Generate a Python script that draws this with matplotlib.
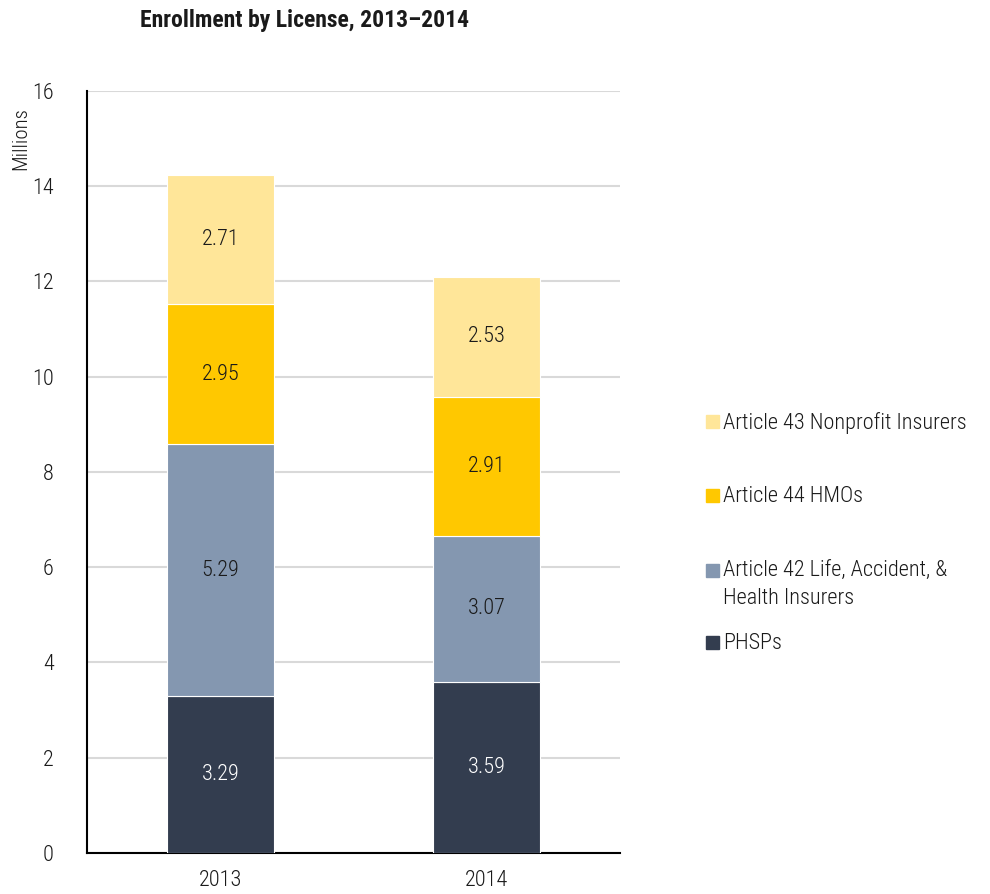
import matplotlib.pyplot as plt
import numpy as np

plt.rcParams['font.family'] = ['Roboto Condensed', 'Archivo Narrow', 'DejaVu Sans']
plt.rcParams['font.weight'] = 'light'

years = ['2013', '2014']
phsps = [3.29, 3.59]
art42 = [5.29, 3.07]
art44 = [2.95, 2.91]
art43 = [2.71, 2.53]

series = [
    ('PHSPs', phsps, '#333d4f', 'white'),
    ('Article 42 Life, Accident, &\nHealth Insurers', art42, '#8497b0', '#1a1a1a'),
    ('Article 44 HMOs', art44, '#ffc800', '#1a1a1a'),
    ('Article 43 Nonprofit Insurers', art43, '#ffe699', '#1a1a1a'),
]

fig = plt.figure(figsize=(9.9, 8.94), dpi=100)
ax = fig.add_axes([0.0879, 0.0459, 0.5384, 0.8523])

x = np.arange(len(years))
bottom = np.zeros(len(years))
for name, vals, col, tcol in series:
    bars = ax.bar(x, vals, 0.4, bottom=bottom, color=col, edgecolor='white',
                  linewidth=0.8, zorder=3)
    for b, v, b0 in zip(bars, vals, bottom):
        ax.text(b.get_x() + b.get_width() / 2, b0 + v / 2, f'{v:.2f}',
                ha='center', va='center', fontsize=16, color=tcol, zorder=4)
    bottom = bottom + np.array(vals)

ax.set_xlim(-0.5, 1.5)
ax.set_ylim(0, 16)
ax.set_yticks(range(0, 17, 2))
ax.set_xticks(x)
ax.set_xticklabels(years)
ax.tick_params(length=0, labelsize=16, colors='#1a1a1a')
ax.tick_params(axis='y', pad=24)
ax.tick_params(axis='x', pad=12)
ax.yaxis.grid(True, color='#d9d9d9', linewidth=1.5, zorder=0)
for s in ['top', 'right']:
    ax.spines[s].set_visible(False)
for s in ['left', 'bottom']:
    ax.spines[s].set_color('black')
    ax.spines[s].set_linewidth(1.5)

fig.text(0.021, 0.845, 'Millions', rotation=90, ha='center', va='center',
         fontsize=15, color='#1a1a1a')
fig.text(0.308, 0.977, 'Enrollment by License, 2013\u20132014', ha='center',
         va='center', fontsize=17, fontweight='bold', color='#1a1a1a')

# legend drawn by hand, top to bottom
leg_y = [422, 496, 571, 643]
for (name, vals, col, tcol), py in zip(series[::-1], leg_y):
    yf = 1 - py / 894
    fig.patches.append(plt.Rectangle((706 / 990, yf - 6 / 894), 13 / 990, 13 / 894,
                                     transform=fig.transFigure, color=col))
    fig.text(723 / 990, yf + 10 / 894, name, ha='left', va='top', fontsize=16,
             color='#1a1a1a', linespacing=1.4)

fig.savefig('out.png', dpi=100)
